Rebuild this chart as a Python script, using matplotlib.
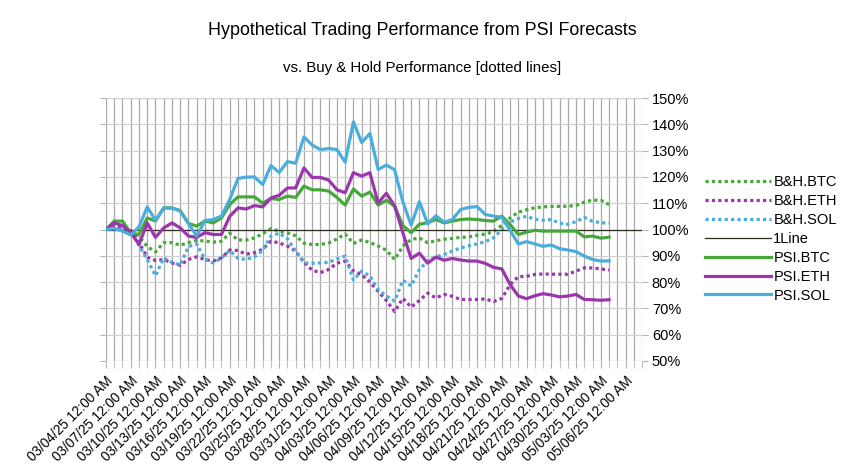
import pandas as pd
import matplotlib
matplotlib.use('Agg')
import matplotlib.pyplot as plt
import matplotlib.dates as mdates
from matplotlib.ticker import MultipleLocator, FuncFormatter

plt.rcParams['font.family'] = ['Liberation Sans', 'DejaVu Sans']

dates = pd.date_range('2025-03-04', periods=62, freq='D')
tick_dates = pd.date_range('2025-03-04', '2025-05-06', freq='3D')
x_end = pd.Timestamp('2025-05-08')

psi_btc = [100, 103.2, 103.2, 98.7, 98.1, 104.4, 103.2, 108.2, 108.2, 107.2,
           102.3, 101.3, 103.2, 102.5, 104.4, 109.5, 112.4, 112.4, 112.4, 110.0,
           111.8, 111.4, 112.7, 112.2, 116.5, 115.1, 115.1, 114.6, 112.2, 109.3,
           115.4, 112.7, 114.2, 109.3, 111.1, 108.8, 101.5, 98.8, 102.0, 102.6,
           103.8, 102.5, 103.2, 103.8, 104.0, 103.8, 103.4, 103.2, 105.1, 101.9,
           98.1, 99.0, 99.7, 99.4, 99.4, 99.4, 99.4, 99.4, 97.2, 97.5,
           96.7, 97.1]
psi_eth = [100, 102.5, 101.5, 99.0, 94.3, 102.5, 97.0, 100.6, 102.5, 100.6,
           97.5, 97.0, 98.8, 98.1, 98.1, 105.0, 108.2, 107.8, 109.1, 108.6,
           112.0, 113.0, 115.8, 115.8, 123.4, 119.8, 119.8, 118.8, 115.1, 114.0,
           121.6, 120.3, 121.6, 110.1, 113.8, 109.0, 98.7, 89.0, 91.0, 87.2,
           89.5, 88.3, 89.0, 88.4, 88.0, 88.0, 87.1, 85.6, 85.0, 79.1,
           74.7, 73.7, 74.8, 75.6, 75.1, 74.4, 74.7, 75.3, 73.4, 73.3,
           73.1, 73.3]
psi_sol = [100, 100.3, 99.4, 97.9, 101.0, 108.6, 103.5, 108.2, 108.1, 107.0,
           102.3, 97.5, 103.4, 103.8, 105.1, 111.4, 119.4, 119.9, 120.0, 117.1,
           124.3, 121.7, 125.8, 125.2, 135.2, 132.1, 130.4, 130.8, 130.4, 125.6,
           140.9, 133.1, 136.5, 122.8, 124.5, 122.7, 110.5, 101.7, 110.6, 102.2,
           105.2, 102.8, 103.8, 107.6, 108.4, 108.7, 105.7, 105.1, 104.6, 99.7,
           94.5, 95.4, 94.5, 93.6, 94.1, 92.7, 92.2, 91.6, 89.9, 88.6,
           88.0, 88.1]
bh_btc = [100, 101.0, 100.5, 99.5, 97.5, 93.5, 91.5, 95.0, 95.0, 94.0,
          95.0, 95.9, 95.6, 95.2, 95.5, 98.6, 96.0, 96.0, 96.8, 98.4,
          100.3, 99.4, 98.7, 97.6, 94.8, 94.3, 94.3, 94.9, 96.4, 98.3,
          94.7, 96.0, 95.1, 93.7, 92.1, 88.6, 93.7, 96.2, 96.8, 95.0,
          95.7, 96.3, 96.6, 97.0, 97.2, 97.8, 98.3, 99.2, 101.6, 104.4,
          106.6, 107.5, 108.3, 108.6, 108.8, 108.8, 108.8, 109.2, 110.4, 111.2,
          111.1, 109.5]
bh_eth = [100, 101.5, 100.5, 99.5, 95.0, 89.5, 88.2, 88.6, 87.3, 86.4,
          88.6, 89.6, 88.6, 88.0, 89.2, 92.2, 92.0, 90.6, 91.2, 92.5,
          95.6, 94.9, 93.7, 91.8, 87.6, 84.5, 83.6, 84.8, 87.2, 88.0,
          84.3, 82.8, 80.0, 76.5, 73.0, 68.8, 73.8, 70.5, 73.0, 75.8,
          74.0, 75.3, 74.6, 73.4, 73.4, 73.4, 73.6, 72.6, 73.8, 79.0,
          82.1, 82.2, 82.9, 83.1, 83.0, 83.0, 83.0, 84.2, 85.4, 85.4,
          85.0, 84.6]
bh_sol = [100, 100.5, 99.8, 99.0, 94.0, 88.6, 82.4, 89.2, 87.5, 86.5,
          93.5, 94.5, 88.6, 87.3, 89.2, 92.0, 89.0, 88.6, 89.6, 92.0,
          97.5, 98.6, 96.5, 91.8, 87.3, 87.2, 87.3, 87.5, 88.8, 89.9,
          80.8, 84.2, 82.3, 77.2, 74.7, 72.8, 80.7, 78.5, 84.8, 88.0,
          89.6, 90.5, 91.8, 93.0, 93.8, 94.5, 95.4, 96.8, 100.0, 102.8,
          104.2, 105.0, 103.9, 103.5, 103.8, 102.4, 102.0, 103.0, 104.6, 103.1,
          102.6, 102.4]
one_line = 100

green = '#46a83a'
purple = '#9b36ad'
blue = '#4aaddb'
dot = (0, (1, 1))

fig = plt.figure(figsize=(8.46, 4.76), dpi=100)
ax = fig.add_axes([0.1253, 0.2416, 0.6336, 0.5525])

ax.plot(dates, bh_btc, color=green, lw=2.3, ls=dot, label='B&H.BTC')
ax.plot(dates, bh_eth, color=purple, lw=2.3, ls=dot, label='B&H.ETH')
ax.plot(dates, bh_sol, color=blue, lw=2.3, ls=dot, label='B&H.SOL')
ax.axhline(one_line, color='#2b2b1e', lw=0.9, label='1Line')
ax.plot(dates, psi_btc, color=green, lw=2.3, label='PSI.BTC')
ax.plot(dates, psi_eth, color=purple, lw=2.3, label='PSI.ETH')
ax.plot(dates, psi_sol, color=blue, lw=2.3, label='PSI.SOL')

ax.set_xlim(dates[0], x_end)
ax.set_ylim(50, 150)
ax.set_xticks(tick_dates)
ax.xaxis.set_minor_locator(mdates.DayLocator())
ax.xaxis.set_major_formatter(mdates.DateFormatter('%m/%d/%y 12:00 AM'))
ax.yaxis.set_major_locator(MultipleLocator(10))
ax.yaxis.set_major_formatter(FuncFormatter(lambda v, p: f'{v:.0f}%'))
ax.yaxis.tick_right()
ax.tick_params(axis='y', which='both', left=True, right=True, length=4,
               color='#b3b3b3', labelsize=10.5, pad=3)
ax.tick_params(axis='x', which='both', length=5, color='#b3b3b3', labelsize=9.8, pad=4)
plt.setp(ax.get_xticklabels(), rotation=45, ha='right', va='top', rotation_mode='anchor')

ax.grid(True, axis='x', which='both', color='#a8a8a8', lw=0.9)
ax.grid(True, axis='y', which='major', color='#d0d0d0', lw=0.9)
ax.set_axisbelow(True)
for s in ax.spines.values():
    s.set_visible(False)

fig.text(0.4995, 0.935, 'Hypothetical Trading Performance from PSI Forecasts',
         ha='center', va='center', fontsize=12.9)
fig.text(0.4995, 0.857, 'vs. Buy & Hold Performance [dotted lines]',
         ha='center', va='center', fontsize=10.8)

fig.legend(loc='upper left', bbox_to_anchor=(0.827, 0.645), frameon=False,
           fontsize=10.5, handlelength=4.5, handletextpad=0.15, labelspacing=0.34,
           borderaxespad=0)

fig.savefig('out.png', dpi=100)
